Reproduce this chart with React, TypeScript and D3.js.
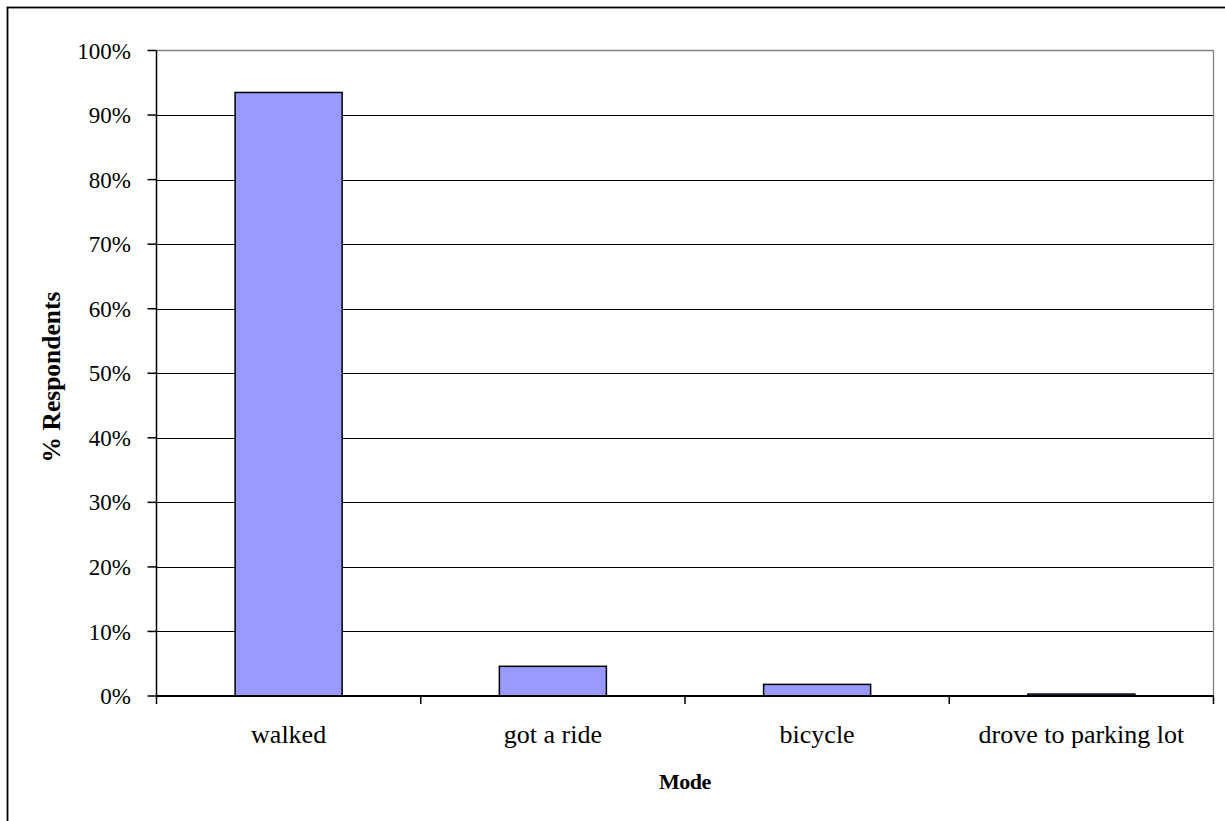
import React from "react";
import * as d3 from "d3";

const categories = ["walked", "got a ride", "bicycle", "drove to parking lot"];
const values = [93.5, 4.6, 1.8, 0.3];
const yTicks = [0, 10, 20, 30, 40, 50, 60, 70, 80, 90, 100];

const W = 1225;
const H = 821;
const plot = { left: 156.5, right: 1213.5, top: 50.5, bottom: 696 };

export default function App() {
  const x = d3
    .scaleBand<string>()
    .domain(categories)
    .range([plot.left, plot.right])
    .padding(0);
  const y = d3.scaleLinear().domain([0, 100]).range([plot.bottom, plot.top]);
  const barW = x.bandwidth() * 0.405;
  const serif = "'Liberation Serif', 'Times New Roman', serif";

  return (
    <svg
      width={W}
      height={H}
      style={{ position: "absolute", left: 0, top: 0, background: "#fff" }}
      fontFamily={serif}
    >
      {/* outer chart frame */}
      <rect x={7.5} y={7.5} width={1400} height={1000} fill="none" stroke="#000" strokeWidth={1.8} />

      {/* gridlines */}
      {yTicks.slice(1, -1).map((t) => (
        <line key={t} x1={plot.left} x2={plot.right} y1={Math.round(y(t)) + 0.5} y2={Math.round(y(t)) + 0.5} stroke="#000" strokeWidth={1.2} />
      ))}
      {/* plot area border (top and right) */}
      <line x1={plot.left} x2={plot.right} y1={plot.top} y2={plot.top} stroke="#808080" strokeWidth={1.3} />
      <line x1={plot.right} x2={plot.right} y1={plot.top} y2={plot.bottom} stroke="#808080" strokeWidth={1.3} />

      {/* bars */}
      {categories.map((c, i) => {
        const cx = (x(c) as number) + x.bandwidth() / 2;
        return (
          <rect
            key={c}
            x={cx - barW / 2}
            y={y(values[i])}
            width={barW}
            height={y(0) - y(values[i])}
            fill="#9999FF"
            stroke="#000"
            strokeWidth={1.5}
          />
        );
      })}

      {/* y axis */}
      <line x1={plot.left} x2={plot.left} y1={plot.top} y2={plot.bottom + 8} stroke="#000" strokeWidth={1.5} />
      {yTicks.map((t) => (
        <g key={t}>
          <line x1={plot.left - 9} x2={plot.left} y1={y(t)} y2={y(t)} stroke="#000" strokeWidth={1.5} />
          <text x={131} y={y(t)} dy="0.35em" textAnchor="end" fontSize={23} fill="#000">
            {t + "%"}
          </text>
        </g>
      ))}

      {/* x axis */}
      <line x1={plot.left} x2={plot.right} y1={plot.bottom} y2={plot.bottom} stroke="#000" strokeWidth={2} />
      {categories.map((c) => (
        <line key={"t" + c} x1={(x(c) as number) + x.bandwidth()} x2={(x(c) as number) + x.bandwidth()} y1={plot.bottom} y2={plot.bottom + 8} stroke="#000" strokeWidth={1.5} />
      ))}
      {categories.map((c) => (
        <text key={"l" + c} x={(x(c) as number) + x.bandwidth() / 2} y={743} textAnchor="middle" fontSize={26} fill="#000">
          {c}
        </text>
      ))}

      {/* axis titles */}
      <text x={685} y={789} textAnchor="middle" fontSize={22} fontWeight="bold" fill="#000" letterSpacing={-0.5}>
        Mode
      </text>
      <text
        transform={`translate(60,377) rotate(-90)`}
        textAnchor="middle"
        fontSize={25.5}
        fontWeight="bold"
        fill="#000"
      >
        % Respondents
      </text>
    </svg>
  );
}
